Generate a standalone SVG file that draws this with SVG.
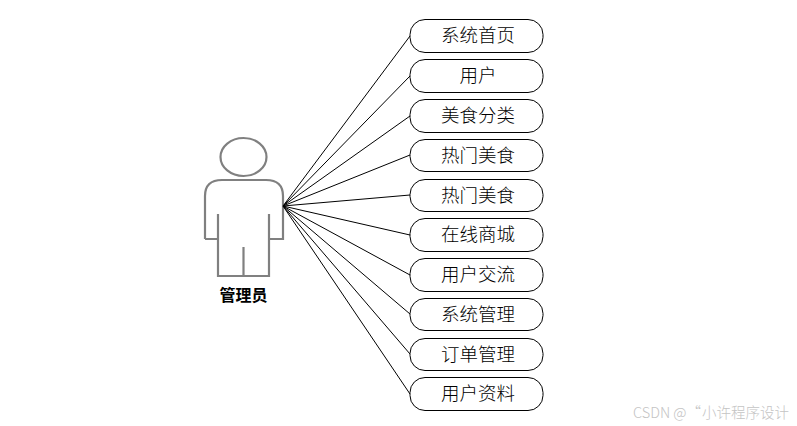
<svg xmlns="http://www.w3.org/2000/svg" width="797" height="426" viewBox="0 0 797 426">
<style>
.n{fill:#fff;stroke:#000;stroke-width:1}
.t{font-family:"Noto Sans CJK SC","Noto Sans CJK JP",sans-serif;font-size:18.500px;font-weight:300;fill:#000;text-anchor:middle}
.c line{stroke:#000;stroke-width:1}
.a{fill:none;stroke:#808080;stroke-width:2.200}
</style>
<rect width="797" height="426" fill="#fff"/>
<g id="actor">
<ellipse class="a" cx="243.500" cy="157" rx="23" ry="19"/>
<path class="a" d="M218 214V276H269V214M205 239V196Q205 180 222 180H266Q283 180 283 196V239H269M205 239H218M243.500 247V276"/>
<text x="243.500" y="301" font-family="'Noto Sans CJK SC',sans-serif" font-size="16" font-weight="700" text-anchor="middle" fill="#000">管理员</text>
</g>
<g class="c" id="connectors">
<line x1="283" y1="206" x2="410" y2="36"/>
<line x1="283" y1="206" x2="410" y2="76"/>
<line x1="283" y1="206" x2="410" y2="116"/>
<line x1="283" y1="206" x2="410" y2="155"/>
<line x1="283" y1="206" x2="410" y2="195"/>
<line x1="283" y1="206" x2="410" y2="235"/>
<line x1="283" y1="206" x2="410" y2="275"/>
<line x1="283" y1="206" x2="410" y2="314"/>
<line x1="283" y1="206" x2="410" y2="354"/>
<line x1="283" y1="206" x2="410" y2="394"/>
</g>
<g id="n1"><rect class="n" x="410" y="19.500" width="133" height="33" rx="15"/><text class="t" x="478" y="42">系统首页</text></g>
<g id="n2"><rect class="n" x="410" y="59.500" width="133" height="33" rx="15"/><text class="t" x="478" y="82">用户</text></g>
<g id="n3"><rect class="n" x="410" y="99.500" width="133" height="33" rx="15"/><text class="t" x="478" y="122">美食分类</text></g>
<g id="n4"><rect class="n" x="410" y="139.500" width="133" height="32" rx="15"/><text class="t" x="478" y="162">热门美食</text></g>
<g id="n5"><rect class="n" x="410" y="179.500" width="133" height="32" rx="15"/><text class="t" x="478" y="202">热门美食</text></g>
<g id="n6"><rect class="n" x="410" y="218.500" width="133" height="33" rx="15"/><text class="t" x="478" y="241">在线商城</text></g>
<g id="n7"><rect class="n" x="410" y="258.500" width="133" height="33" rx="15"/><text class="t" x="478" y="281">用户交流</text></g>
<g id="n8"><rect class="n" x="410" y="298.500" width="133" height="32" rx="15"/><text class="t" x="478" y="321">系统管理</text></g>
<g id="n9"><rect class="n" x="410" y="338.500" width="133" height="32" rx="15"/><text class="t" x="478" y="361">订单管理</text></g>
<g id="n10"><rect class="n" x="410" y="377.500" width="133" height="33" rx="15"/><text class="t" x="478" y="400">用户资料</text></g>
<text x="633" y="418" font-family="'Noto Sans CJK SC',sans-serif" font-size="14.500" font-weight="300" fill="#c4c4c4">CSDN @“<tspan x="702">小许程序设计</tspan></text>
</svg>
